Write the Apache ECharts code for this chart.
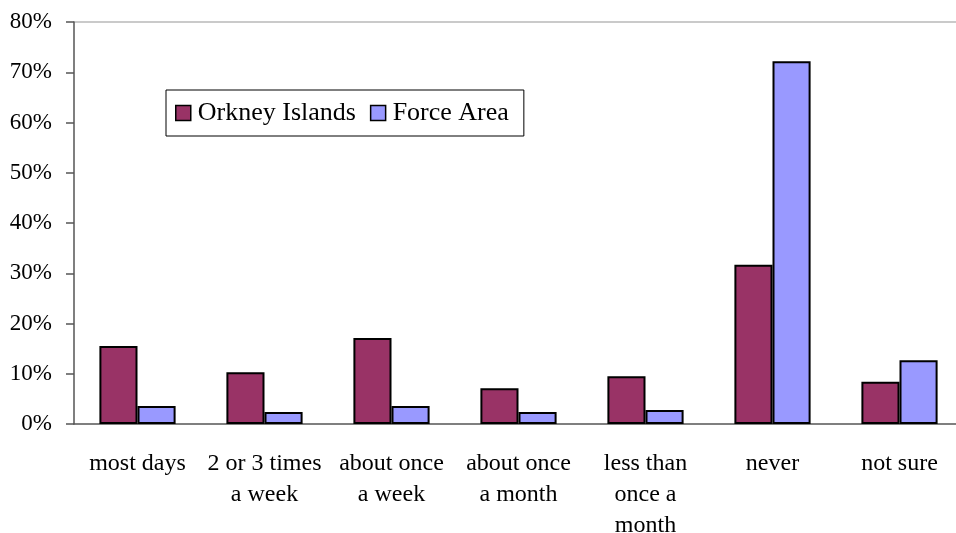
<!DOCTYPE html>
<html><head><meta charset="utf-8">
<script src="https://cdn.jsdelivr.net/npm/echarts@6/dist/echarts.min.js"></script>
<style>html,body{margin:0;padding:0;background:#fff}#c{width:956px;height:533px}</style>
</head><body><div id="c"></div>
<script>
const categories = ['most days','2 or 3 times\na week','about once\na week','about once\na month','less than\nonce a\nmonth','never','not sure'];
const orkney = [15.5, 10.3, 17.1, 7.1, 9.5, 31.7, 8.4];
const forceArea = [3.6, 2.4, 3.6, 2.4, 2.8, 72.2, 12.7];
const yTicks = [0,10,20,30,40,50,60,70,80];

const chart = echarts.init(document.getElementById('c'));
const font = 'Liberation Serif, Times New Roman, serif';
chart.setOption({
  animation: false,
  grid: {left: 74, right: -7, top: 22, bottom: 109, outerBoundsMode: 'none', containLabel: false},
  legend: {
    left: 166, top: 90, orient: 'horizontal',
    padding: [10, 15, 10, 9],
    itemWidth: 15, itemHeight: 15, itemGap: 14,
    borderColor: '#000', borderWidth: 1,
    textStyle: {fontFamily: font, fontSize: 26, color: '#000', padding: [2,0,0,2]},
    data: [
      {name: 'Orkney Islands', icon: 'rect', itemStyle: {borderColor:'#000', borderWidth:1.5}},
      {name: 'Force Area', icon: 'rect', itemStyle: {borderColor:'#000', borderWidth:1.5}}
    ]
  },
  xAxis: {
    type: 'category', data: categories,
    axisLine: {lineStyle: {color: '#555', width: 1.5}},
    axisTick: {length: 8, lineStyle: {color: '#555', width: 1.5}},
    axisLabel: {fontFamily: font, fontSize: 24, color: '#000', margin: 24, lineHeight: 31, interval: 0}
  },
  yAxis: {
    type: 'value', min: 0, max: 80, interval: 10,
    axisLine: {show: true, lineStyle: {color: '#555', width: 1.5}},
    axisTick: {show: true, length: 8, lineStyle: {color: '#555', width: 1.5}},
    axisLabel: {fontFamily: font, fontSize: 23, color: '#000', margin: 22, formatter: v => v + '%'},
    splitLine: {show: true, lineStyle: {color: yTicks.map(v => v === 80 ? '#b8b8b8' : 'rgba(0,0,0,0)'), width: 1.5}}
  },
  series: [
    {name: 'Orkney Islands', type: 'bar', data: orkney, barGap: '0%', barCategoryGap: '40%',
     itemStyle: {color: '#993366', borderColor: '#000', borderWidth: 2}},
    {name: 'Force Area', type: 'bar', data: forceArea,
     itemStyle: {color: '#9999FF', borderColor: '#000', borderWidth: 2}}
  ]
});
</script></body></html>
